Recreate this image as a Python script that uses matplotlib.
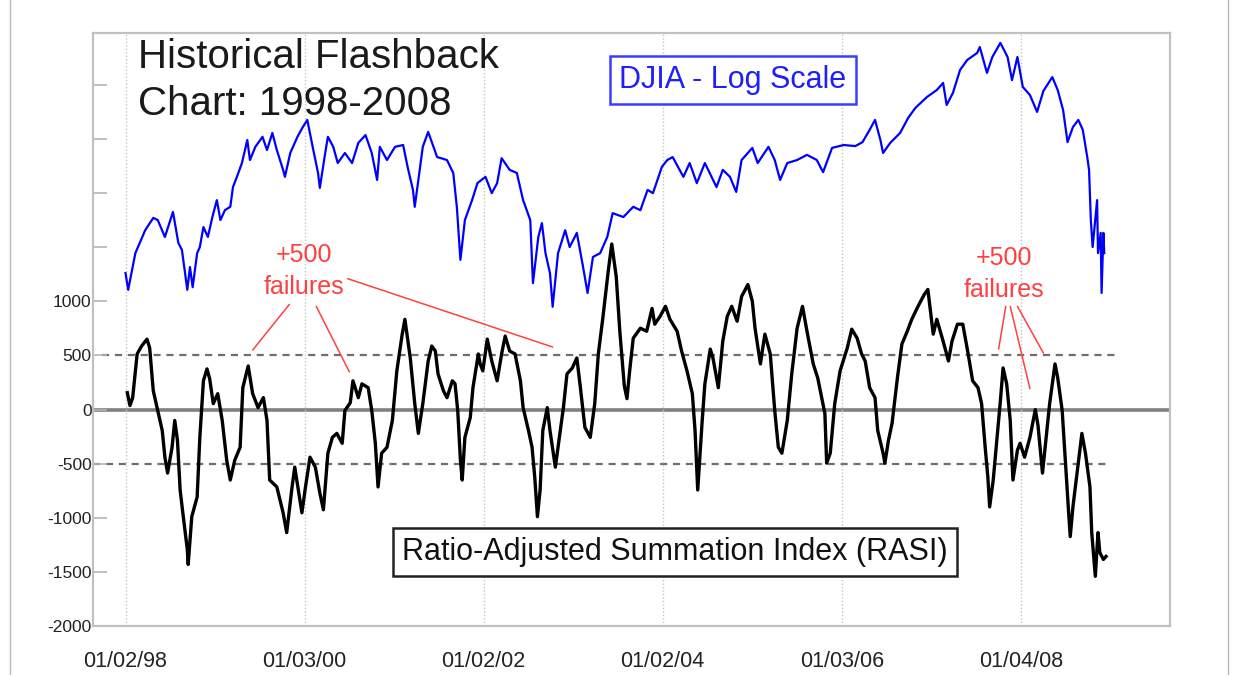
import matplotlib
matplotlib.use('Agg')
import matplotlib.pyplot as plt
import matplotlib.dates as mdates
from matplotlib.ticker import NullLocator
from matplotlib.patches import Rectangle
import pandas as pd

plt.rcParams['font.family'] = ['Liberation Sans', 'DejaVu Sans']

# DJIA (log scale) - decimal year / index level
djia_t = [1998.00, 1998.03, 1998.11, 1998.22, 1998.31, 1998.36, 1998.44, 1998.53, 1998.59, 1998.63,
          1998.69, 1998.72, 1998.75, 1998.80, 1998.83, 1998.87, 1998.92, 1998.97, 1999.02, 1999.06,
          1999.11, 1999.17, 1999.20, 1999.26, 1999.30, 1999.36, 1999.39, 1999.45, 1999.53, 1999.58,
          1999.64, 1999.69, 1999.76, 1999.78, 1999.84, 1999.92, 1999.98, 2000.03, 2000.09, 2000.15,
          2000.17, 2000.23, 2000.26, 2000.32, 2000.37, 2000.45, 2000.53, 2000.60, 2000.68, 2000.75,
          2000.81, 2000.84, 2000.92, 2001.01, 2001.10, 2001.15, 2001.21, 2001.23, 2001.32, 2001.38,
          2001.48, 2001.59, 2001.66, 2001.70, 2001.74, 2001.79, 2001.87, 2001.93, 2002.02, 2002.09,
          2002.15, 2002.20, 2002.29, 2002.37, 2002.44, 2002.52, 2002.55, 2002.61, 2002.65, 2002.69,
          2002.74, 2002.77, 2002.83, 2002.91, 2002.96, 2003.04, 2003.11, 2003.16, 2003.22, 2003.30,
          2003.38, 2003.44, 2003.56, 2003.67, 2003.75, 2003.83, 2003.89, 2003.99, 2004.05, 2004.11,
          2004.23, 2004.30, 2004.38, 2004.47, 2004.60, 2004.67, 2004.75, 2004.82, 2004.88, 2005.00,
          2005.06, 2005.18, 2005.25, 2005.31, 2005.39, 2005.50, 2005.61, 2005.72, 2005.79, 2005.89,
          2006.02, 2006.15, 2006.23, 2006.31, 2006.37, 2006.43, 2006.46, 2006.54, 2006.65, 2006.74,
          2006.82, 2006.95, 2007.06, 2007.13, 2007.17, 2007.24, 2007.32, 2007.40, 2007.51, 2007.54,
          2007.62, 2007.68, 2007.77, 2007.85, 2007.90, 2007.96, 2008.02, 2008.10, 2008.18, 2008.25,
          2008.35, 2008.41, 2008.47, 2008.52, 2008.58, 2008.64, 2008.69, 2008.74, 2008.76, 2008.78,
          2008.80, 2008.85, 2008.86, 2008.89, 2008.90, 2008.92, 2008.93]
djia_v = [7940, 7610, 8350, 8850, 9130, 9080, 8700, 9270, 8570, 8420,
          7610, 8060, 7660, 8350, 8480, 8920, 8700, 9150, 9550, 9080,
          9310, 9390, 9870, 10230, 10490, 11120, 10570, 10930, 11210, 10840,
          11320, 10840, 10310, 10130, 10760, 11210, 11490, 11700, 10930, 10230,
          9850, 10760, 11210, 10930, 10490, 10760, 10490, 11040, 11260, 10760,
          10050, 10930, 10570, 10930, 10980, 10390, 9800, 9390, 10930, 11350,
          10650, 10570, 10230, 9390, 8210, 9080, 9550, 9970, 10130, 9720,
          9970, 10620, 10310, 10230, 9550, 9080, 7740, 8700, 9010, 8350,
          7940, 7290, 8350, 8850, 8480, 8790, 8060, 7550, 8270, 8350,
          8700, 9240, 9150, 9390, 9310, 9800, 9720, 10390, 10570, 10650,
          10130, 10490, 9970, 10490, 9870, 10310, 10130, 9750, 10570, 10900,
          10490, 10930, 10570, 10050, 10490, 10570, 10710, 10570, 10250, 10900,
          10980, 10950, 11060, 11410, 11700, 11120, 10760, 11040, 11320, 11760,
          12060, 12400, 12620, 12850, 12150, 12530, 13280, 13620, 13860, 14070,
          13180, 13720, 14220, 13720, 12940, 13720, 12720, 12460, 11940, 12590,
          13040, 12620, 12000, 11060, 11490, 11700, 11410, 10650, 10310, 9080,
          8480, 9550, 8350, 8790, 7550, 8790, 8350]

# Ratio-Adjusted Summation Index - decimal year / value
rasi_t = [1998.02, 1998.05, 1998.08, 1998.13, 1998.18, 1998.24, 1998.27, 1998.31, 1998.36, 1998.41,
          1998.44, 1998.47, 1998.52, 1998.55, 1998.58, 1998.61, 1998.64, 1998.69, 1998.70, 1998.74,
          1998.80, 1998.83, 1998.87, 1998.91, 1998.94, 1998.98, 1999.03, 1999.08, 1999.13, 1999.17,
          1999.22, 1999.28, 1999.31, 1999.37, 1999.42, 1999.48, 1999.54, 1999.58, 1999.61, 1999.69,
          1999.76, 1999.80, 1999.86, 1999.89, 1999.93, 1999.97, 2000.01, 2000.06, 2000.12, 2000.17,
          2000.21, 2000.26, 2000.31, 2000.36, 2000.42, 2000.45, 2000.51, 2000.54, 2000.60, 2000.64,
          2000.71, 2000.75, 2000.79, 2000.82, 2000.86, 2000.92, 2000.98, 2001.03, 2001.09, 2001.12,
          2001.18, 2001.23, 2001.27, 2001.32, 2001.38, 2001.42, 2001.46, 2001.49, 2001.55, 2001.59,
          2001.65, 2001.68, 2001.71, 2001.74, 2001.76, 2001.79, 2001.85, 2001.88, 2001.94, 2001.96,
          2001.99, 2002.04, 2002.09, 2002.15, 2002.20, 2002.24, 2002.29, 2002.35, 2002.41, 2002.44,
          2002.50, 2002.54, 2002.57, 2002.60, 2002.63, 2002.66, 2002.71, 2002.74, 2002.80, 2002.83,
          2002.89, 2002.93, 2002.99, 2003.04, 2003.08, 2003.13, 2003.19, 2003.24, 2003.28, 2003.33,
          2003.39, 2003.43, 2003.48, 2003.52, 2003.57, 2003.60, 2003.63, 2003.67, 2003.75, 2003.82,
          2003.88, 2003.91, 2003.97, 2004.03, 2004.08, 2004.16, 2004.21, 2004.27, 2004.33, 2004.36,
          2004.39, 2004.44, 2004.47, 2004.53, 2004.56, 2004.62, 2004.67, 2004.72, 2004.77, 2004.83,
          2004.88, 2004.95, 2005.00, 2005.03, 2005.09, 2005.14, 2005.20, 2005.25, 2005.29, 2005.33,
          2005.39, 2005.44, 2005.50, 2005.56, 2005.61, 2005.68, 2005.73, 2005.81, 2005.83, 2005.87,
          2005.92, 2005.98, 2006.06, 2006.11, 2006.17, 2006.22, 2006.26, 2006.31, 2006.37, 2006.40,
          2006.46, 2006.48, 2006.52, 2006.56, 2006.62, 2006.67, 2006.73, 2006.78, 2006.85, 2006.92,
          2006.96, 2007.02, 2007.06, 2007.13, 2007.19, 2007.23, 2007.29, 2007.35, 2007.41, 2007.46,
          2007.52, 2007.56, 2007.60, 2007.63, 2007.65, 2007.69, 2007.73, 2007.77, 2007.80, 2007.84,
          2007.88, 2007.91, 2007.96, 2007.99, 2008.04, 2008.10, 2008.16, 2008.19, 2008.24, 2008.27,
          2008.32, 2008.38, 2008.41, 2008.46, 2008.49, 2008.53, 2008.55, 2008.58, 2008.63, 2008.68,
          2008.72, 2008.77, 2008.79, 2008.83, 2008.86, 2008.88, 2008.92, 2008.95]
rasi_v = [156, 37, 110, 514, 587, 651, 569, 174, -9, -193,
          -440, -587, -348, -101, -284, -743, -954, -1293, -1431, -990,
          -807, -257, 266, 376, 284, 55, 147, -101, -468, -651,
          -468, -348, 202, 403, 147, 18, 110, -101, -651, -715,
          -954, -1137, -715, -532, -743, -954, -715, -440, -532, -770,
          -926, -403, -257, -220, -312, -9, 64, 266, 110, 238,
          202, -9, -312, -715, -403, -348, -101, 358, 697, 834,
          477, 55, -220, 55, 449, 587, 541, 330, 174, 110,
          266, 238, -9, -468, -651, -257, -73, 202, 514, 422,
          358, 651, 449, 266, 514, 679, 541, 514, 266, 18,
          -193, -348, -624, -990, -743, -193, 18, -193, -532, -348,
          18, 330, 385, 477, 202, -165, -257, 55, 514, 844,
          1275, 1530, 1229, 724, 220, 101, 358, 660, 752, 724,
          935, 789, 862, 954, 834, 724, 541, 358, 147, -193,
          -743, -101, 238, 559, 477, 202, 633, 862, 954, 816,
          1045, 1155, 1000, 752, 422, 697, 514, -9, -348, -403,
          -101, 330, 752, 954, 724, 422, 293, -37, -495, -403,
          55, 358, 569, 743, 660, 514, 449, 202, 110, -193,
          -403, -495, -284, -128, 293, 605, 724, 834, 954, 1064,
          1110, 697, 834, 633, 449, 633, 789, 789, 514, 266,
          202, 55, -348, -624, -899, -651, -284, 83, 385, 238,
          -101, -651, -376, -312, -440, -257, 0, -147, -587, -348,
          55, 422, 293, -9, -403, -926, -1174, -899, -559, -220,
          -403, -715, -1137, -1541, -1137, -1320, -1385, -1357]

tick_dates = ['1998-01-02', '2000-01-03', '2002-01-02', '2004-01-02', '2006-01-03', '2008-01-04']
rasi_ticks = list(range(-2000, 3001, 500))
rasi_ticklabels = [str(v) if v <= 1000 else '' for v in rasi_ticks]


def yr2date(yrs):
    base = pd.Timestamp('1998-01-02')
    return [base + pd.Timedelta(days=(y - 1998.0) * 365.25) for y in yrs]


fig = plt.figure(figsize=(12.35, 6.75), dpi=100)
ax = fig.add_axes([93 / 1235, 1 - 626 / 675, (1170 - 93) / 1235, (626 - 33) / 675])
ax2 = ax.twinx()

# thin outer frame of the picture
fig.patches.append(Rectangle((10 / 1235, -0.01), 1218 / 1235, 1.02, transform=fig.transFigure,
                             fill=False, ec='#b8b8b8', lw=1.0))

ax.set_xlim(yr2date([1997.637, 2009.664]))
ax.set_ylim(-2000, 3480)

# reference lines
ax.axhline(0, color='#808080', lw=2.6, zorder=1)
ax.hlines(500, *yr2date([1997.74, 2009.11]), colors='#6e6e6e', lw=1.6,
          linestyles=(0, (3.2, 2.6)), zorder=1)
ax.hlines(-500, *yr2date([1997.637, 2008.99]), colors='#6e6e6e', lw=1.6,
          linestyles=(0, (3.2, 2.6)), zorder=1)

ax.plot(yr2date(rasi_t), rasi_v, color='black', lw=2.4, zorder=3)

ax2.set_yscale('log')
ax2.set_ylim(3249, 14580)
ax2.plot(yr2date(djia_t), djia_v, color='#0000ff', lw=1.6)
ax2.yaxis.set_major_locator(NullLocator())
ax2.yaxis.set_minor_locator(NullLocator())
for s in ax2.spines.values():
    s.set_visible(False)

# axes styling
ax.set_xticks([mdates.datestr2num(d) for d in tick_dates])
ax.xaxis.set_major_formatter(mdates.DateFormatter('%m/%d/%y'))
ax.set_yticks(rasi_ticks)
ax.set_yticklabels(rasi_ticklabels)
ax.grid(axis='x', color='#c4c4c4', linestyle=(0, (1, 1.5)), lw=1.0)
ax.tick_params(axis='y', direction='in', length=10, width=1.2, color='#b4b4b4',
               pad=1, labelsize=12.5, labelcolor='#222222')
ax.tick_params(axis='x', length=0, pad=18, labelsize=15.5, labelcolor='#222222')
for s in ax.spines.values():
    s.set_color('#c0c0c0')
    s.set_linewidth(1.6)

# titles and labels
fig.text(138 / 1235, 1 - 68 / 675, 'Historical Flashback', fontsize=29,
         color='#1a1a1a', va='baseline', ha='left')
fig.text(138 / 1235, 1 - 115 / 675, 'Chart: 1998-2008', fontsize=29,
         color='#1a1a1a', va='baseline', ha='left')
fig.text(733 / 1235, 1 - 80 / 675, 'DJIA - Log Scale', fontsize=22, color='#1e1eff',
         ha='center', va='center',
         bbox=dict(boxstyle='square,pad=0.3', fc='white', ec='#3c3cff', lw=1.8))
fig.text(675 / 1235, 1 - 552 / 675, 'Ratio-Adjusted Summation Index (RASI)', fontsize=22,
         color='#111111', ha='center', va='center',
         bbox=dict(boxstyle='square,pad=0.3', fc='white', ec='#222222', lw=1.8))

# "+500 failures" notes with leader lines
notes = [('+500\nfailures', 304, 271), ('+500\nfailures', 1004, 274)]
for txt, px, py in notes:
    fig.text(px / 1235, 1 - py / 675, txt, fontsize=18, color='#ff4040',
             ha='center', va='center', linespacing=1.45)

leaders = [((1999.83, 972), (1999.42, 550)),
           ((2000.13, 954), (2000.50, 348)),
           ((2000.48, 1210), (2002.77, 578)),
           ((2007.83, 954), (2007.75, 559)),
           ((2007.88, 954), (2008.10, 193)),
           ((2007.96, 954), (2008.25, 523))]
for (t0, v0), (t1, v1) in leaders:
    ax.annotate('', xy=(yr2date([t1])[0], v1), xytext=(yr2date([t0])[0], v0),
                arrowprops=dict(arrowstyle='-', color='#ff4040', lw=1.1,
                                shrinkA=0, shrinkB=0))

fig.savefig('out.png', dpi=100)
